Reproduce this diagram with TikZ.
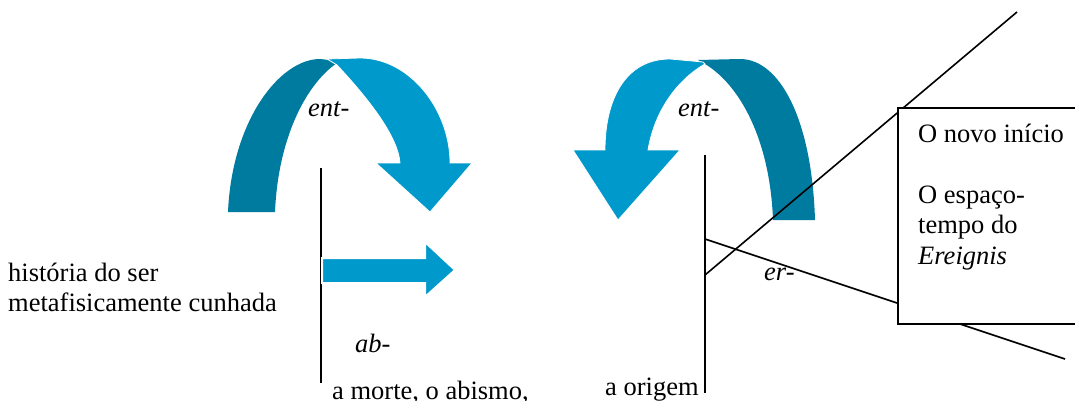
\documentclass[tikz,border=0pt]{standalone}
\usepackage{fontspec}
\setmainfont{Liberation Serif}
\usetikzlibrary{positioning}
\definecolor{bandlight}{RGB}{0,153,204}
\definecolor{banddark}{RGB}{0,123,160}

\begin{document}
\begin{tikzpicture}[
  x=1pt, y=-1pt,
  every node/.style={font=\fontsize{26.5}{30}\selectfont, inner sep=0pt, anchor=base west},
  rule/.style={line width=1.6pt},
  darkband/.style={fill=banddark},
  lightband/.style={fill=bandlight, draw=white, line width=0.8pt},
  infobox/.style={draw, rule, fill=white, anchor=north west,
                  minimum width=190pt, minimum height=216pt},
]
  \useasboundingbox (0,0) rectangle (1075,401);
  \clip (0,0) rectangle (1075,401);

  % Left curved arrow (dark back, light front with head)
  \fill[darkband] (228,212) .. controls (232,120) and (280,59) .. (320,59) -- (338,61)
    -- (337,63) .. controls (305,85) and (278,140) .. (275,212) -- cycle;
  \filldraw[lightband] (327,59) -- (360,58) .. controls (410,58) and (450,110) .. (450,163)
    -- (472,163) -- (430,212) -- (376,163) -- (400,163)
    .. controls (398,135) and (365,95) .. (337,65) -- cycle;

  % Right curved arrow (mirrored)
  \fill[darkband] (815,220) -- (773,220) .. controls (770,140) and (740,85) .. (705,64)
    -- (698,60) -- (740,59) .. controls (780,59) and (812,120) .. (815,220) -- cycle;
  \filldraw[lightband] (703,62) -- (670,59) .. controls (625,59) and (605,100) .. (605,150)
    -- (573,150) -- (618,220) -- (680,150) -- (648,150)
    .. controls (655,108) and (680,78) .. (705,64) -- cycle;

  % Left divider and straight arrow
  \coordinate (left top) at (321,168);
  \coordinate (left bottom) at (321,383);
  \draw[rule] (left top) -- (left bottom);
  \filldraw[lightband, line width=2pt] (322,258) -- (425,258) -- (425,242) -- (455,270)
    -- (425,297) -- (425,283) -- (322,283) -- cycle;

  % Right divider and the two rays
  \coordinate (right top) at (705,155);
  \coordinate (right bottom) at (705,393);
  \coordinate (fork up) at (705,275);
  \coordinate (fork down) at (705,239);
  \coordinate (ray up) at (1017,12);
  \coordinate (ray down) at (1065,359);
  \draw[rule] (right top) -- (right bottom);
  \draw[rule] (fork up) -- (ray up);
  \draw[rule] (fork down) -- (ray down);

  % Box on the right
  \node[infobox] (box) at (897,107) {};
  \node (novo) at (918,142) {O novo início};
  \node (espaco) at (918,203) {O espaço-};
  \node (tempo) at (918,233) {tempo do};
  \node (ereignis) at (918,264) {\itshape Ereignis};

  % Prefixes
  \node (ent left) at (308,117) {\itshape ent-};
  \node (ent right) at (678,117) {\itshape ent-};
  \node (ab) at (355,352) {\itshape ab-};
  \node (er) at (764,280) {\itshape er-};

  % Other labels
  \node (hist a) at (8,281) {história do ser};
  \node (hist b) at (8,311) {metafisicamente cunhada};
  \node (morte) at (332,399) {a morte, o abismo,};
  \node (origem) at (605,395) {a origem};
\end{tikzpicture}
\end{document}
